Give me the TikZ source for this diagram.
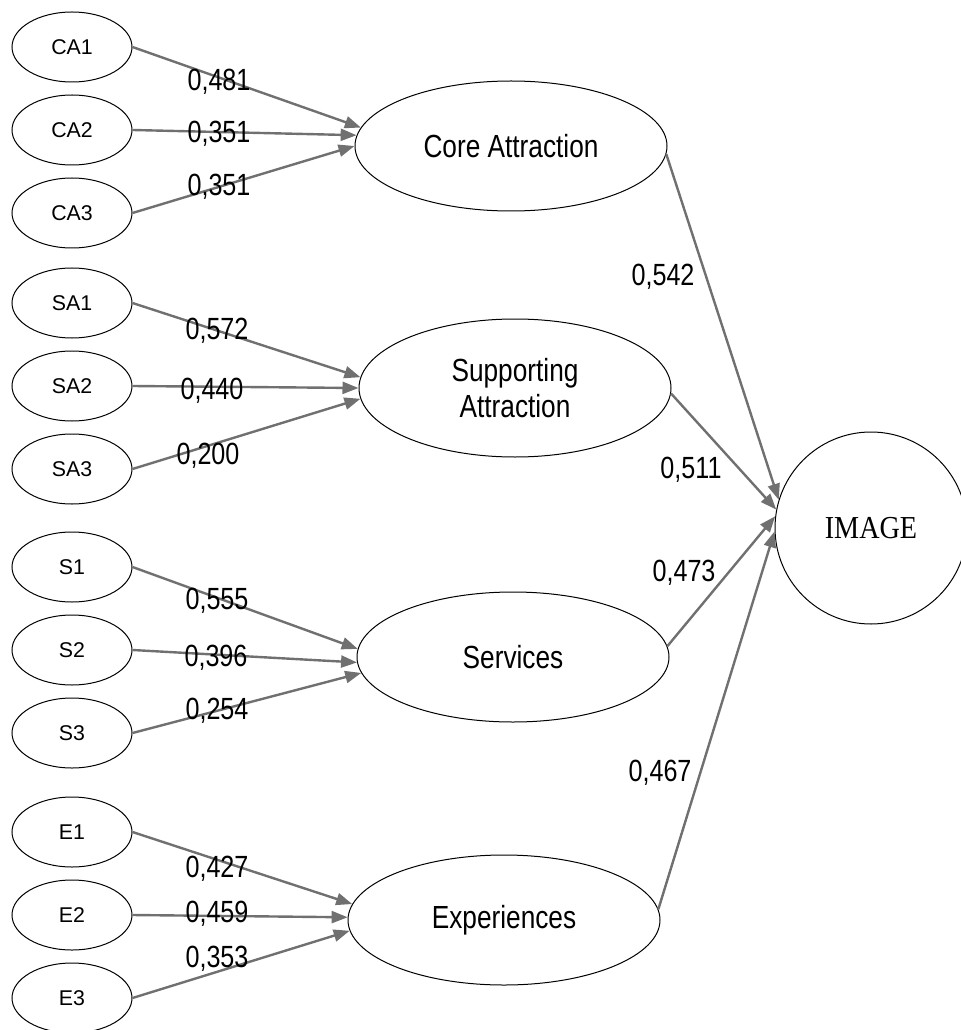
\documentclass[tikz,border=0pt]{standalone}
\usepackage{fontspec}
\setmainfont{Liberation Sans}
\newfontfamily\narrowfont{Liberation Sans}[FakeStretch=0.82]
\newfontfamily\imagefont{Liberation Serif}[FakeStretch=0.88]
\usepackage{tikz}
\usetikzlibrary{arrows.meta,positioning,shapes.geometric}
\definecolor{pathgray}{RGB}{112,112,112}

\begin{document}
\begin{tikzpicture}[
  x=0.75pt,y=-0.75pt,
  node distance=9pt,
  item/.style={draw,ellipse,line width=0.75pt,inner sep=0pt,minimum width=90pt,minimum height=52.5pt,font=\fontsize{16}{19}\selectfont},
  factor/.style={draw,ellipse,line width=0.75pt,inner sep=0pt,minimum width=234pt,minimum height=97.5pt,align=center,font=\narrowfont\fontsize{24}{27.5}\selectfont},
  target/.style={draw,circle,line width=0.75pt,inner sep=0pt,minimum size=144pt,font=\imagefont\fontsize{24}{28}\selectfont},
  wt/.style={inner sep=0pt,font=\narrowfont\fontsize{23}{26}\selectfont},
  arr/.style={-{Triangle[length=12pt,width=9pt]},line width=1.8pt,draw=pathgray}
]
\useasboundingbox (0,0) rectangle (960,1030);
\node[item] (ca1) at (72,47) {CA1};
\node[item,below=of ca1] (ca2) {CA2};
\node[item,below=of ca2] (ca3) {CA3};
\node[item] (sa1) at (72,303) {SA1};
\node[item,below=of sa1] (sa2) {SA2};
\node[item,below=of sa2] (sa3) {SA3};
\node[item] (s1) at (72,567) {S1};
\node[item,below=of s1] (s2) {S2};
\node[item,below=of s2] (s3) {S3};
\node[item] (e1) at (72,832) {E1};
\node[item,below=of e1] (e2) {E2};
\node[item,below=of e2] (e3) {E3};
\node[factor] (core) at (511,146) {Core Attraction};
\node[factor,minimum height=103.5pt] (supp) at (515,388) {Supporting\\Attraction};
\node[factor] (serv) at (513,657) {Services};
\node[factor] (exp) at (504,920) {Experiences};
\node[target] (img) at (871,528) {IMAGE};
\draw[arr] (ca1.east) -- (core.173);
\draw[arr] (ca2.east) -- (core.176);
\draw[arr] (ca3.east) -- (core.180);
\draw[arr] (sa1.east) -- (supp.176);
\draw[arr] (sa2.east) -- (supp.180);
\draw[arr] (sa3.east) -- (supp.184);
\draw[arr] (s1.east) -- (serv.177);
\draw[arr] (s2.east) -- (serv.182);
\draw[arr] (s3.east) -- (serv.186);
\draw[arr] (e1.east) -- (exp.174);
\draw[arr] (e2.east) -- (exp.179);
\draw[arr] (e3.east) -- (exp.184);
\draw[arr] (core.-3) -- (img.163);
\draw[arr] (supp.-2) -- (img.169);
\draw[arr] (serv.4) -- (img.173);
\draw[arr] (exp.4) -- (img.182);
\node[wt] (w-ca1) at (219,82) {0,481};
\node[wt] (w-ca2) at (219,134) {0,351};
\node[wt] (w-ca3) at (219,187) {0,351};
\node[wt] (w-sa1) at (217,331) {0,572};
\node[wt] (w-sa2) at (212,391) {0,440};
\node[wt] (w-sa3) at (208,456) {0,200};
\node[wt] (w-s1) at (217,601) {0,555};
\node[wt] (w-s2) at (216,658) {0,396};
\node[wt] (w-s3) at (217,711) {0,254};
\node[wt] (w-e1) at (217,869) {0,427};
\node[wt] (w-e2) at (217,914) {0,459};
\node[wt] (w-e3) at (217,959) {0,353};
\node[wt] (w-core) at (663,277) {0,542};
\node[wt] (w-supp) at (691,470) {0,511};
\node[wt] (w-serv) at (684,573) {0,473};
\node[wt] (w-exp) at (660,773) {0,467};
\end{tikzpicture}
\end{document}
